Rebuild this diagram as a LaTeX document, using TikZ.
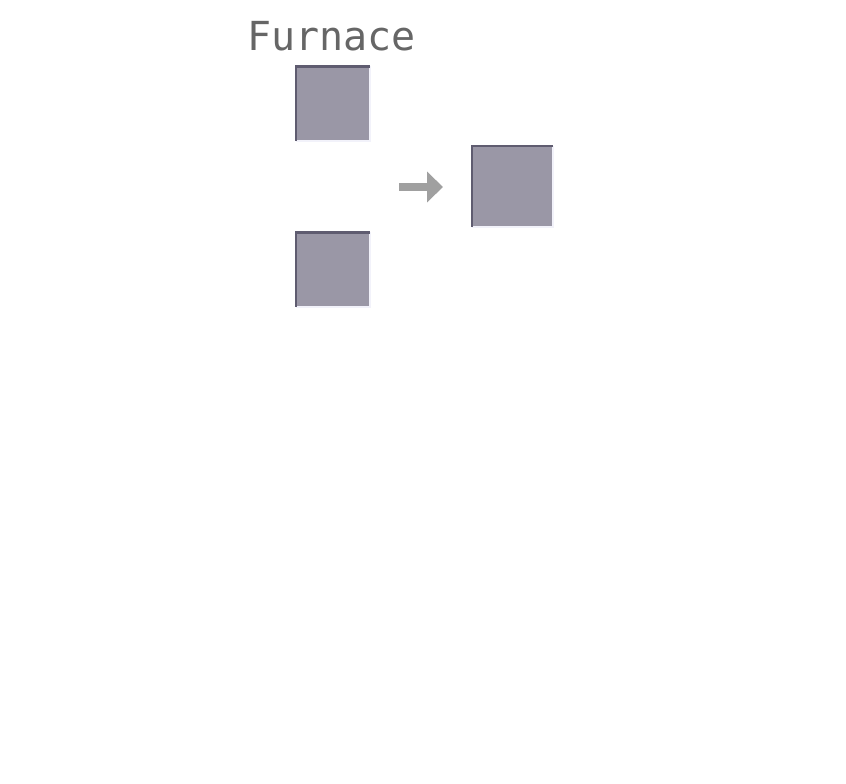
\documentclass[tikz,border=0pt]{standalone}
\usepackage{fontspec}
\newfontfamily\pixelfont{DejaVu Sans Mono}
\usetikzlibrary{arrows.meta}
\definecolor{slotfill}{HTML}{9A97A6}
\definecolor{slotdark}{HTML}{5F5C70}
\definecolor{slotlight}{HTML}{F2F2FA}
\definecolor{arrowgray}{HTML}{A0A0A0}
\definecolor{titlegray}{HTML}{666666}
\tikzstyle{slot} = [rectangle, fill=slotfill, inner sep=0pt, minimum size=74pt]
\tikzstyle{bigslot} = [slot, minimum size=81pt]
\tikzstyle{shadow} = [slotdark, line width=2.5pt]
\tikzstyle{shine} = [slotlight, line width=2pt]

\begin{document}
\begin{tikzpicture}[x=1pt,y=-1pt]
\useasboundingbox (0,0) rectangle (846,784);
\begin{scope}
    %label
    \node[anchor=base west, inner sep=0pt, text=titlegray, font=\pixelfont\fontsize{40}{40}\selectfont] (title) at (247,51) {Furnace};
    %slots
    \node[slot] (input) at (333,103.5) {};
    \node[slot] (fuel) at (333,269.5) {};
    \node[bigslot] (result) at (512.5,186.5) {};
    %borders
    \foreach \s in {input,fuel,result} {
        \draw[shine] (\s.north east) -- (\s.south east) -- (\s.south west);
        \draw[shadow] (\s.south west) -- (\s.north west) -- (\s.north east);
    }
    %arrow
    \coordinate (from) at (399,187);
    \coordinate (to) at (443,187);
    \draw[arrowgray, line width=8pt, -{Triangle[length=16pt,width=30pt]}] (from) -- (to);
\end{scope}
\end{tikzpicture}
\end{document}
